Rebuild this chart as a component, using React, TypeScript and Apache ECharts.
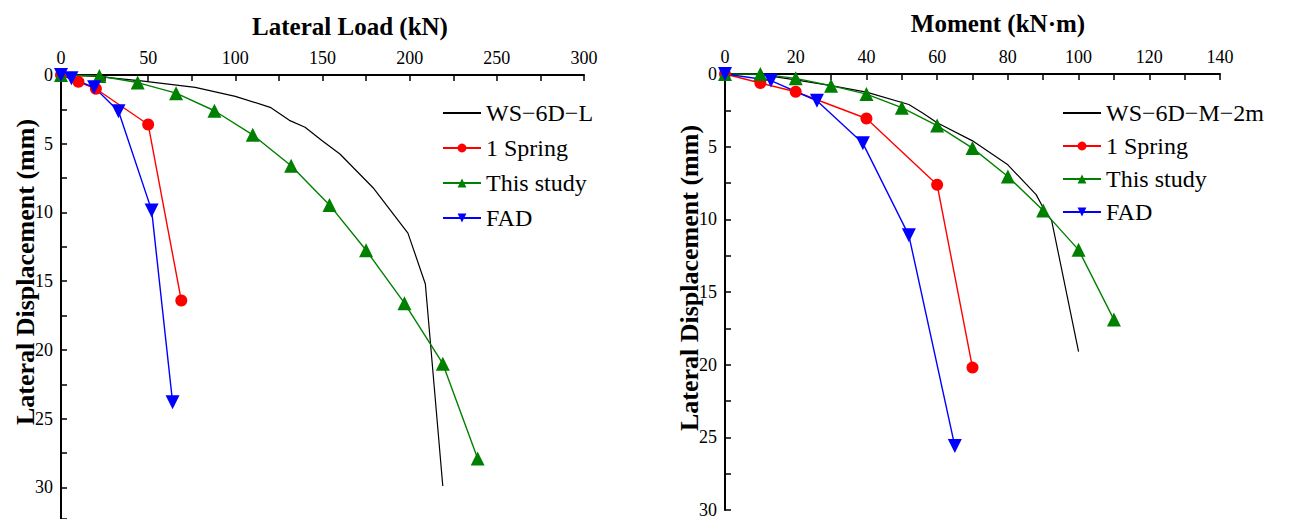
import React, { useEffect, useRef } from "react";
import * as echarts from "echarts";

// ---- Data: [x, lateral displacement (mm)] ----
const loadWS6DL = [[0, 0], [20, 0.1], [46, 0.43], [77, 0.9], [100, 1.55], [120, 2.35], [131, 3.3], [140, 3.8], [150, 4.8], [160, 5.75], [179, 8.2], [199, 11.5], [209, 15.2], [219, 29.9]];
const loadSpring = [[0, 0], [10, 0.5], [20, 1.0], [50, 3.6], [69, 16.4]];
const loadStudy = [[0, 0], [22, 0.07], [44, 0.55], [66, 1.32], [88, 2.6], [110, 4.35], [132, 6.6], [154, 9.45], [175, 12.75], [197, 16.6], [219, 21.0], [239, 27.9]];
const loadFAD = [[0, 0], [6, 0.24], [19, 0.9], [33, 2.64], [52, 9.85], [64, 23.8]];

const momWS6DM = [[0, 0], [10, 0.05], [20, 0.4], [30, 0.8], [40, 1.25], [52, 2.1], [56, 2.7], [60, 3.35], [70, 4.6], [80, 6.25], [88, 8.3], [90, 9.2], [92.4, 10.1], [100, 19.1]];
const momSpring = [[0, 0], [10, 0.62], [20, 1.22], [40, 3.06], [60, 7.62], [70, 20.2]];
const momStudy = [[0, 0], [10, 0.0], [20, 0.3], [30, 0.8], [40, 1.38], [50, 2.32], [60, 3.55], [70, 5.1], [80, 7.05], [90, 9.4], [100, 12.1], [110, 16.9]];
const momFAD = [[0, 0], [13, 0.45], [26, 1.84], [39, 4.77], [52, 11.1], [65, 25.6]];

const legendLeft = ["WS\u22126D\u2212L", "1 Spring", "This study", "FAD"];
const legendRight = ["WS\u22126D\u2212M\u22122m", "1 Spring ", "This study ", "FAD "];

const titleLoad = "Lateral Load (kN)";
const titleMoment = "Moment (kN\u00b7m)";
const titleDisp = "Lateral Displacement (mm)";

const SERIF = "Liberation Serif";
const LEGEND_FONT = "Liberation Serif";

export default function App() {
  const ref = useRef<HTMLDivElement>(null);
  useEffect(() => {
    if (!ref.current) return;
    const chart = echarts.init(ref.current, null, { renderer: "svg" });

    const axisLine = { show: true, lineStyle: { color: "#000", width: 2 } };
    const axisTick = { show: true, inside: true, length: 6, lineStyle: { color: "#000", width: 1.5 } };
    const labelStyle = { color: "#000", fontFamily: SERIF, fontSize: 18 };

    const mk = (name: string, data: number[][], color: string, symbol: string, idx: number, rot = 0, size = 12) => ({
      name,
      type: "line",
      xAxisIndex: idx,
      yAxisIndex: idx,
      data,
      symbol,
      symbolSize: size,
      symbolRotate: rot,
      showSymbol: symbol !== "none",
      lineStyle: { color, width: symbol === "none" ? 1.2 : 1.4 },
      itemStyle: { color },
      z: symbol === "none" ? 1 : 2,
    });

    const hideNon = (step: number) => (v: number) => (Math.abs(v / step - Math.round(v / step)) < 1e-6 ? String(Math.round(v)) : "");

    const legendData = (names: string[]) =>
      names.map((n, i) => (i === 0 ? { name: n, itemStyle: { opacity: 0 } } : { name: n }));

    const legendText = { color: "#000", fontFamily: LEGEND_FONT, fontSize: 24, lineHeight: 24 };

    const option: any = {
      animation: false,
      backgroundColor: "#fff",
      grid: [
        { left: 61, top: 75, width: 523, height: 444 },
        { left: 725, top: 74, width: 495, height: 438 },
      ],
      xAxis: [
        {
          gridIndex: 0, type: "value", position: "top", min: 0, max: 300, interval: 25,
          axisLine, axisTick, splitLine: { show: false },
          axisLabel: { ...labelStyle, margin: 8, formatter: hideNon(50) },
        },
        {
          gridIndex: 1, type: "value", position: "top", min: 0, max: 140, interval: 10,
          axisLine, axisTick, splitLine: { show: false },
          axisLabel: { ...labelStyle, margin: 8, formatter: hideNon(20) },
        },
      ],
      yAxis: [
        {
          gridIndex: 0, type: "value", inverse: true, min: 0, max: 32.3, interval: 2.5,
          axisLine, axisTick, splitLine: { show: false },
          axisLabel: { ...labelStyle, margin: 8, formatter: hideNon(5) },
        },
        {
          gridIndex: 1, type: "value", inverse: true, min: 0, max: 30, interval: 2.5,
          axisLine, axisTick, splitLine: { show: false },
          axisLabel: { ...labelStyle, margin: 8, formatter: hideNon(5) },
        },
      ],
      legend: [
        {
          data: legendData(legendLeft), orient: "vertical", left: 442, top: 101, padding: 0,
          itemWidth: 38, itemHeight: 11, itemGap: 11, textStyle: legendText,
        },
        {
          data: legendData(legendRight), orient: "vertical", left: 1062, top: 101, padding: 0,
          itemWidth: 38, itemHeight: 11, itemGap: 9, textStyle: legendText,
        },
      ],
      graphic: [
        { type: "text", x: 350, y: 26, style: { text: titleLoad, font: `bold 25px ${SERIF}`, fill: "#000", textAlign: "center", textVerticalAlign: "middle" } },
        { type: "text", x: 998, y: 23, style: { text: titleMoment, font: `bold 25px ${SERIF}`, fill: "#000", textAlign: "center", textVerticalAlign: "middle" } },
        { type: "text", x: 25, y: 272, rotation: Math.PI / 2, style: { text: titleDisp, font: `bold 26px ${SERIF}`, fill: "#000", textAlign: "center", textVerticalAlign: "middle" } },
        { type: "text", x: 689, y: 278, rotation: Math.PI / 2, style: { text: titleDisp, font: `bold 26px ${SERIF}`, fill: "#000", textAlign: "center", textVerticalAlign: "middle" } },
      ],
      series: [
        mk(legendLeft[0], loadWS6DL, "#000000", "none", 0),
        mk(legendLeft[1], loadSpring, "#ff0000", "circle", 0, 0, 12),
        mk(legendLeft[2], loadStudy, "#008000", "triangle", 0, 0, 14),
        mk(legendLeft[3], loadFAD, "#0000ff", "triangle", 0, 180, 14),
        mk(legendRight[0], momWS6DM, "#000000", "none", 1),
        mk(legendRight[1], momSpring, "#ff0000", "circle", 1, 0, 12),
        mk(legendRight[2], momStudy, "#008000", "triangle", 1, 0, 14),
        mk(legendRight[3], momFAD, "#0000ff", "triangle", 1, 180, 14),
      ],
    };
    chart.setOption(option);
    return () => chart.dispose();
  }, []);
  return <div ref={ref} style={{ position: "absolute", left: 0, top: 0, width: 1295, height: 519 }} />;
}
